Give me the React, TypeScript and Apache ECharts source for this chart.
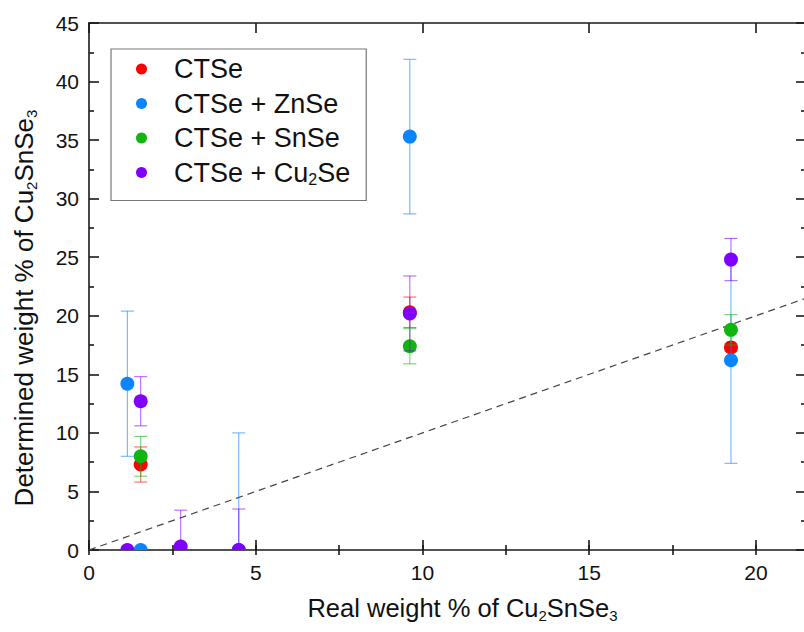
import { useEffect, useRef } from "react";
import * as echarts from "echarts";

// Series names and legend labels (Cu{sub|2}Se is drawn with a rich-text subscript)
const seriesNames = ["CTSe", "CTSe + ZnSe", "CTSe + SnSe", "CTSe + Cu2Se"];
const legendLabels = ["CTSe", "CTSe + ZnSe", "CTSe + SnSe", "CTSe + Cu{sub|2}Se"];
const seriesColors = ["#ff0000", "#0a84ff", "#10b510", "#8000ff"];

// [real weight %, determined weight %, error]
const ctse = [
  [1.55, 7.3, 1.5],
  [9.62, 20.3, 1.3],
  [19.25, 17.3, 0.3],
];
const ctseZnse = [
  [1.15, 14.2, 6.2],
  [1.55, 0, 0],
  [4.49, 0, 10],
  [9.62, 35.3, 6.6],
  [19.25, 16.2, 8.8],
];
const ctseSnse = [
  [1.55, 8.0, 1.7],
  [9.62, 17.4, 1.5],
  [19.25, 18.8, 1.3],
];
const ctseCu2se = [
  [1.15, 0, 0],
  [1.55, 12.7, 2.1],
  [2.75, 0.3, 3.1],
  [4.49, 0, 3.5],
  [9.62, 20.2, 3.2],
  [19.25, 24.8, 1.8],
];
const allData = [ctse, ctseZnse, ctseSnse, ctseCu2se];

// reference line y = x
const parityLine = [
  [0, 0],
  [21.5, 21.5],
];

const X_MIN = 0;
const X_MAX = 21.5;
const Y_MIN = 0;
const Y_MAX = 45;

const FONT = "'Liberation Sans', Arial, sans-serif";
const AXIS_COLOR = "#1a1a1a";
const TEXT_COLOR = "#111";

// Points with vertical error bars; clipped to the plot area so that
// markers sitting on zero show as half discs.
function pointSeries(name: string, data: number[][], color: string) {
  return {
    name,
    type: "custom",
    clip: true,
    z: 3,
    encode: { x: 0, y: 1 },
    itemStyle: { color },
    data,
    renderItem: (_params: any, api: any) => {
      const x = api.value(0);
      const y = api.value(1);
      const e = api.value(2);
      const c = api.coord([x, y]);
      const children: any[] = [];
      if (e) {
        const top = api.coord([x, y + e]);
        const bot = api.coord([x, y - e]);
        const half = 6.5;
        const style = { stroke: color, lineWidth: 1.1, opacity: 0.6 };
        children.push(
          { type: "line", shape: { x1: top[0], y1: top[1], x2: bot[0], y2: bot[1] }, style },
          { type: "line", shape: { x1: top[0] - half, y1: top[1], x2: top[0] + half, y2: top[1] }, style },
          { type: "line", shape: { x1: bot[0] - half, y1: bot[1], x2: bot[0] + half, y2: bot[1] }, style }
        );
      }
      children.push({ type: "circle", shape: { cx: c[0], cy: c[1], r: 7 }, style: { fill: color } });
      return { type: "group", children };
    },
  };
}

export default function App() {
  const ref = useRef<HTMLDivElement>(null);

  useEffect(() => {
    if (!ref.current) return;
    const chart = echarts.init(ref.current, null, { renderer: "svg" });

    const tickStyle = { color: AXIS_COLOR, width: 1.6 };
    const subRich = (size: number) => ({
      sub: {
        fontFamily: FONT,
        fontSize: size,
        lineHeight: 30,
        verticalAlign: "bottom",
        color: TEXT_COLOR,
      },
    });

    const baseX = {
      type: "value",
      min: X_MIN,
      max: X_MAX,
      gridIndex: 0,
      splitLine: { show: false },
      axisLine: { show: true, onZero: false, lineStyle: { color: AXIS_COLOR, width: 1.6 } },
    };

    const option: any = {
      animation: false,
      backgroundColor: "#ffffff",
      grid: {
        left: 89,
        top: 23,
        width: 717,
        height: 527,
        outerBoundsMode: "none",
      },
      legend: {
        data: seriesNames,
        orient: "vertical",
        left: 111,
        top: 49,
        padding: [5, 16, 13, 25],
        itemGap: 4.5,
        itemWidth: 55,
        itemHeight: 11,
        icon: "circle",
        borderColor: "#777",
        borderWidth: 1.2,
        backgroundColor: "#fff",
        formatter: (name: string) => legendLabels[seriesNames.indexOf(name)],
        textStyle: {
          fontFamily: FONT,
          fontSize: 27,
          lineHeight: 30,
          color: TEXT_COLOR,
          rich: subRich(16),
        },
      },
      xAxis: [
        {
          ...baseX,
          position: "bottom",
          interval: 5,
          axisTick: { show: true, inside: true, length: 10, lineStyle: tickStyle },
          axisLabel: {
            show: true,
            margin: 12,
            fontFamily: FONT,
            fontSize: 21,
            color: TEXT_COLOR,
            formatter: (v: number) => (v % 5 === 0 ? String(v) : ""),
          },
          name: "Real weight % of Cu{sub|2}SnSe{sub|3}",
          nameLocation: "middle",
          nameGap: 43,
          nameTextStyle: {
            fontFamily: FONT,
            fontSize: 25.5,
            lineHeight: 30,
            color: TEXT_COLOR,
            padding: [0, 0, 0, 30],
            rich: subRich(15),
          },
        },
        {
          ...baseX,
          position: "top",
          interval: 5,
          axisTick: { show: true, inside: true, length: 10, lineStyle: tickStyle },
          axisLabel: { show: false },
        },
        {
          ...baseX,
          position: "bottom",
          interval: 2.5,
          axisLine: { show: false },
          axisTick: { show: true, inside: true, length: 5, lineStyle: tickStyle },
          axisLabel: { show: false },
        },
        {
          ...baseX,
          position: "top",
          interval: 2.5,
          axisLine: { show: false },
          axisTick: { show: true, inside: true, length: 5, lineStyle: tickStyle },
          axisLabel: { show: false },
        },
      ],
      yAxis: [
        {
          type: "value",
          min: Y_MIN,
          max: Y_MAX,
          interval: 5,
          position: "left",
          splitLine: { show: false },
          axisLine: { show: true, onZero: false, lineStyle: { color: AXIS_COLOR, width: 1.6 } },
          axisTick: { show: true, inside: true, length: 10, lineStyle: tickStyle },
          minorTick: { show: true, splitNumber: 2, length: 5, lineStyle: tickStyle },
          axisLabel: { margin: 10, fontFamily: FONT, fontSize: 21, color: TEXT_COLOR },
          name: "Determined weight % of Cu{sub|2}SnSe{sub|3}",
          nameLocation: "middle",
          nameRotate: 90,
          nameGap: 50,
          nameTextStyle: {
            fontFamily: FONT,
            fontSize: 26,
            lineHeight: 30,
            color: TEXT_COLOR,
            padding: [0, 43, 0, 0],
            rich: subRich(15),
          },
        },
        {
          type: "value",
          min: Y_MIN,
          max: Y_MAX,
          interval: 5,
          position: "right",
          splitLine: { show: false },
          axisLine: { show: true, onZero: false, lineStyle: { color: AXIS_COLOR, width: 1.6 } },
          axisTick: { show: true, inside: true, length: 10, lineStyle: tickStyle },
          minorTick: { show: true, splitNumber: 2, length: 5, lineStyle: tickStyle },
          axisLabel: { show: false },
        },
      ],
      series: [
        {
          type: "line",
          data: parityLine,
          symbol: "none",
          silent: true,
          z: 2,
          lineStyle: { color: "#444", width: 1.2, type: [7, 5] },
        },
        ...allData.map((d, i) => pointSeries(seriesNames[i], d, seriesColors[i])),
      ],
    };

    chart.setOption(option);
    return () => chart.dispose();
  }, []);

  return (
    <div
      ref={ref}
      style={{ position: "fixed", left: 0, top: 0, width: 804, height: 632, background: "#fff" }}
    />
  );
}
